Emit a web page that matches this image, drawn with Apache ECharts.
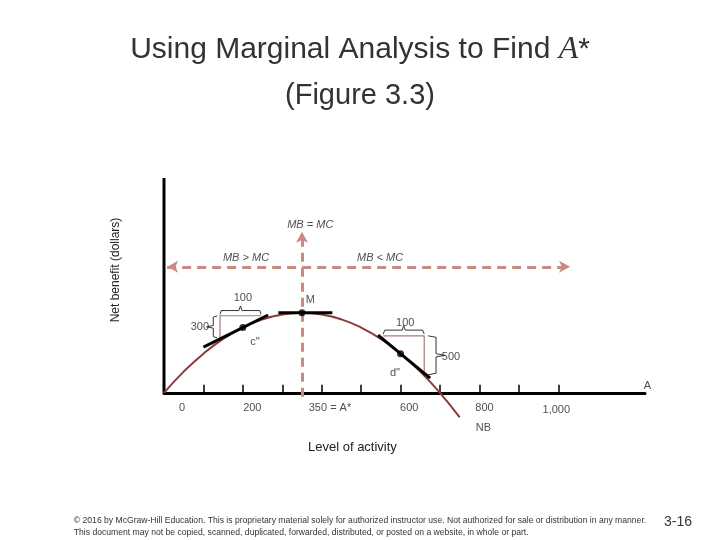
<!DOCTYPE html>
<html><head><meta charset="utf-8">
<script src="https://cdn.jsdelivr.net/npm/echarts@6/dist/echarts.min.js"></script>
<style>html,body{margin:0;background:#fff}#c{width:720px;height:540px}</style>
</head><body><div id="c"></div>
<script>
const activity = [0,50,100,150,200,250,300,350,400,450,500,550,600,650,700,750];
const netBenefit = [0,325,600,825,1000,1125,1200,1225,1200,1125,1000,825,600,325,0,-375];
const tickValues = [100,200,300,400,500,600,700,800,900,1000];
const tangentC = [[100,700],[264,1192]];
const tangentM = [[290,1225],[427,1225]];
const tangentD = [[543,885],[675,225]];
const triC = [[246,1180],[142,1180],[142,842]];
const triD = [[556,873],[660,873],[660,276]];
const braceC100 = [[142,1200],[145,1260],[190,1260],[194,1330],[198,1260],[243,1260],[246,1200]];
const braceC300 = [[135,1179],[125,1160],[125,1030],[108,1010],[125,990],[125,860],[135,842]];
const braceD100 = [[556,900],[560,960],[604,960],[608,1030],[612,960],[656,960],[660,900]];
const braceD500 = [[670,873],[690,850],[690,600],[712,575],[690,550],[690,300],[670,276]];
const tickLabels = [[46,-230,'0'],[224,-230,'200'],[421,-230,'350 = A*'],[622,-230,'600'],[813,-230,'800'],[995,-260,'1,000']];
const notes = [[371,2572,'MB = MC',true],[208,2067,'MB > MC',true],[548,2067,'MB < MC',true],[371,1424,'M',false],
 [200,1454,'100',false],[91,1010,'300',false],[231,781,"c''",false],[612,1072,'100',false],[728,551,'500',false],
 [586,306,"d''",false],[1226,107,'A',false],[810,-536,'NB',false]];
const points = [[200,1000],[350,1225],[600,600]];
const dashH = [[8,1929],[1030,1929]];
const dashV = [[350,-60],[350,2465]];

const brown='#8b3a3a', pink='#c98a82', thin='#a87b74';
function line(data,color,width,extra){return Object.assign({type:'line',data,symbol:'none',lineStyle:{color,width},silent:true,z:3},extra||{});}
const chart = echarts.init(document.getElementById('c'));
chart.setOption({
 animation:false,
 title:[{text:'Using Marginal Analysis to Find {i|A}*',left:'center',top:29,textStyle:{fontFamily:'Liberation Sans',fontSize:30,fontWeight:'normal',color:'#333',rich:{i:{fontFamily:'Liberation Serif',fontStyle:'italic',fontSize:32,color:'#333'}}}},
  {text:'(Figure 3.3)',left:'center',top:76,textStyle:{fontFamily:'Liberation Sans',fontSize:29,fontWeight:'normal',color:'#333'}}],
 graphic:[
  {type:'text',left:'center',top:515,style:{text:'© 2016 by McGraw-Hill Education. This is proprietary material solely for authorized instructor use. Not authorized for sale or distribution in any manner.\nThis document may not be copied, scanned, duplicated, forwarded, distributed, or posted on a website, in whole or part.',fontSize:8.6,fill:'#333',align:'center',lineHeight:12,fontFamily:'Liberation Sans'}},
  {type:'text',left:664,top:515,style:{text:'3-16',fontSize:14,fill:'#333',fontFamily:'Liberation Sans'}},
  {type:'text',left:308,top:441,style:{text:'Level of activity',fontSize:13,fill:'#222',fontFamily:'Liberation Sans',width:180,align:'center'}},
  {type:'text',x:116,y:270,rotation:Math.PI/2,style:{text:'Net benefit (dollars)',fontSize:12,fill:'#222',fontFamily:'Liberation Sans',align:'center',verticalAlign:'middle'}}
 ],
 grid:{left:164,right:75,top:178,bottom:108},
 xAxis:{type:'value',min:0,max:1220,interval:100,axisLine:{onZero:true,lineStyle:{color:'#000',width:3}},axisTick:{inside:true,length:8,customValues:tickValues,lineStyle:{color:'#000',width:1.5}},axisLabel:{show:false},splitLine:{show:false}},
 yAxis:{type:'value',min:-600,max:3290,show:false,splitLine:{show:false}},
 series:[
  line([[0,0],[0,3290]],'#000',3,{markLine:{silent:true,symbol:['arrow','arrow'],symbolSize:[9,11],label:{show:false},
    lineStyle:{color:pink,width:3,type:[9,6]},
    data:[[{coord:dashH[0]},{coord:dashH[1]}],[{coord:dashV[0],symbol:'none'},{coord:dashV[1]}]]}}),
  line(activity.map((a,i)=>[a,netBenefit[i]]),brown,2,{smooth:true,z:4}),
  line(triC,thin,1.2),line(triD,thin,1.2),
  line(braceC100,'#333',1),line(braceC300,'#333',1),line(braceD100,'#333',1),line(braceD500,'#333',1),
  line(tangentC,'#000',3,{z:5}),line(tangentM,'#000',3,{z:5}),line(tangentD,'#000',3,{z:5}),
  {type:'scatter',data:points,symbolSize:7,itemStyle:{color:'#000'},z:6,silent:true},
  {type:'scatter',data:tickLabels.map(t=>({value:[t[0],t[1]],label:{formatter:t[2]}})),symbolSize:0,clip:false,silent:true,
   label:{show:true,position:'inside',fontSize:11,color:'#222',fontFamily:'Liberation Sans'}},
  {type:'scatter',data:notes.map(t=>({value:[t[0],t[1]],label:{formatter:t[2],fontStyle:t[3]?'italic':'normal'}})),symbolSize:0,clip:false,silent:true,
   label:{show:true,position:'inside',fontSize:11,color:'#222',fontFamily:'Liberation Sans'}}
 ]
});
</script></body></html>
